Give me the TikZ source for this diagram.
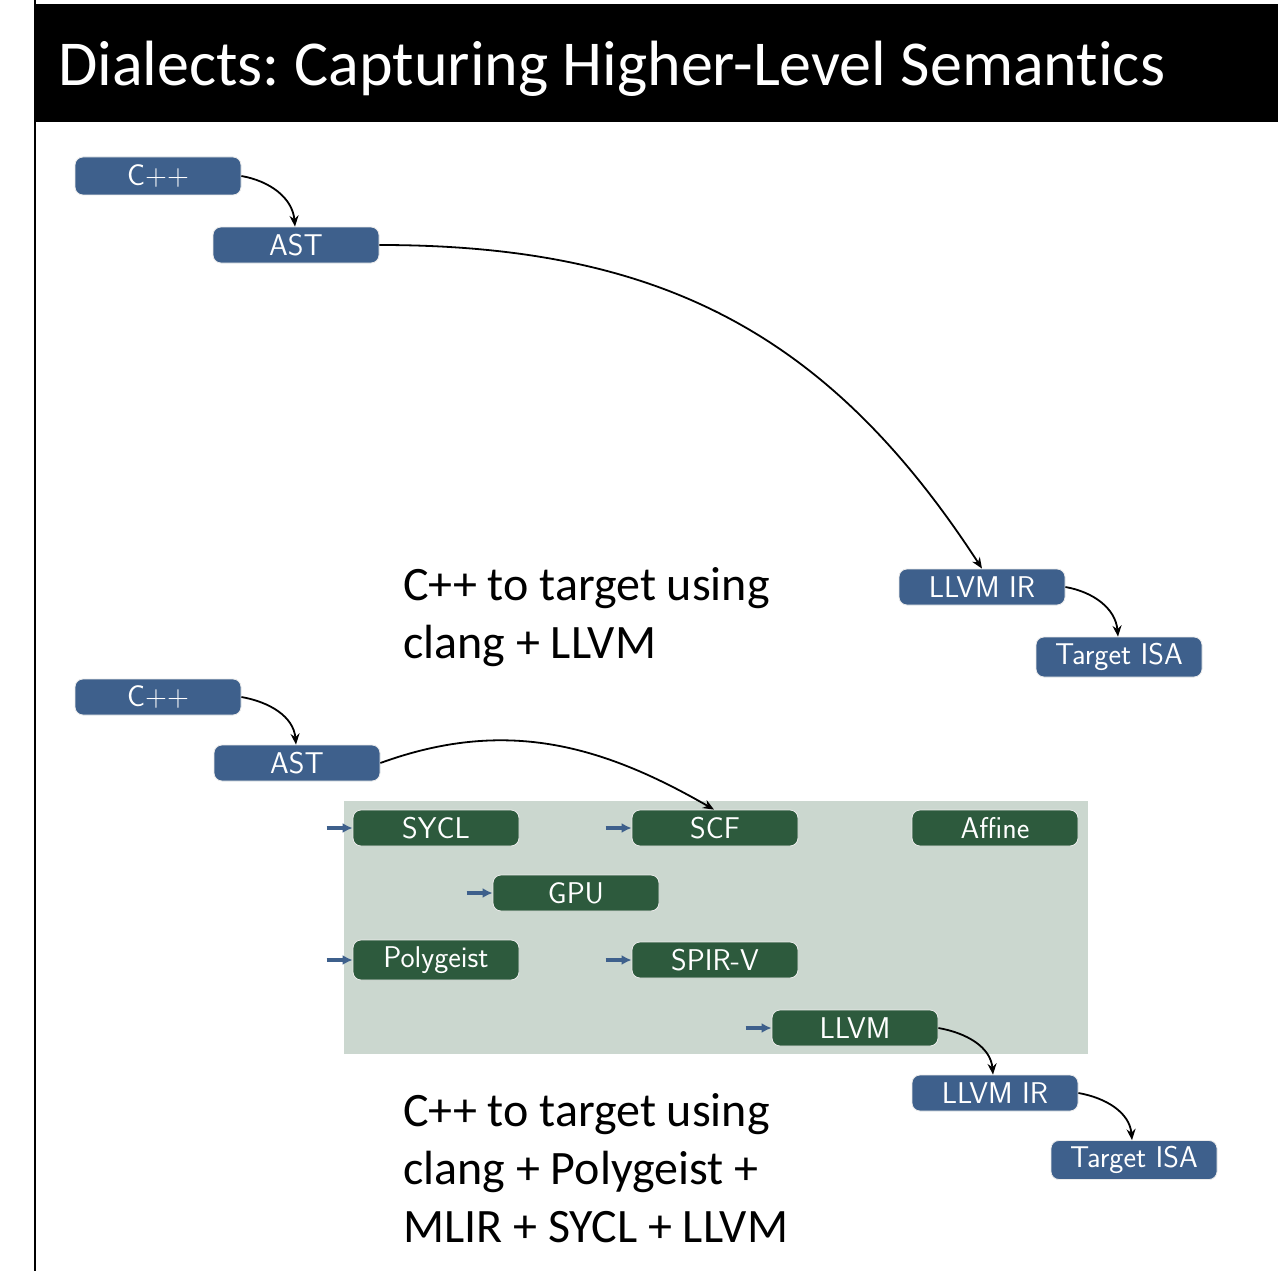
\documentclass[tikz,border=0pt]{standalone}
\usepackage{fontspec}
\newfontfamily\calib[RawFeature=-liga]{Carlito}
\frenchspacing
\usetikzlibrary{arrows.meta}
\definecolor{nblue}{RGB}{62,96,140}
\definecolor{ngreen}{RGB}{45,90,61}
\definecolor{panel}{RGB}{203,215,207}
\tikzset{
  box/.style={rounded corners=8pt, draw=white!92!black, line width=0.8pt, text=white,
    minimum width=166pt, minimum height=36pt, inner sep=0pt,
    font=\sffamily\fontsize{30}{34}\selectfont},
  bbox/.style={box, fill=nblue},
  gbox/.style={box, fill=ngreen},
  flow/.style={-{Stealth[length=11pt,width=9pt]}, line width=1.8pt, black},
  feed/.style={-{Latex[length=10pt,width=10pt]}, line width=3.2pt, nblue},
  body/.style={font=\calib\fontsize{48}{58}\selectfont, align=left, inner sep=0pt, anchor=base west}
}
\begin{document}
\begin{tikzpicture}[x=1pt,y=-1pt]
\useasboundingbox (0,0) rectangle (1278,1271);
\fill[white] (0,0) rectangle (1278,1271);
% title bar
\fill[black] (34,4) rectangle (1278,122);
\draw[black, line width=2pt] (35,0) -- (35,1271);
\node[anchor=base west, inner sep=0pt, text=white, font=\calib\fontsize{64}{70}\selectfont] (title) at (58,86) {Dialects: Capturing Higher-Level Semantics};

% top section
\node[bbox, minimum height=38pt] (cpp1) at (158,176) {C++};
\node[bbox] (ast1) at (296,245) {AST};
\node[bbox] (ir1) at (982,587) {LLVM IR};
\node[bbox, minimum height=40pt] (isa1) at (1119,657) {Target ISA};
\draw[flow] (cpp1.east) to[out=-10,in=95] ([xshift=-1pt]ast1.north);
\draw[flow] (ast1.east) to[out=0,in=123,looseness=1.05] (ir1.north);
\draw[flow] (ir1.east) to[out=-10,in=95] ([xshift=-1pt]isa1.north);
\node[body] (txt1) at (403,658) {C++ to target using\\clang + LLVM};

% bottom section
\fill[panel] (344,801) rectangle (1088,1054);
\node[bbox] (cpp2) at (158,697) {C++};
\node[bbox] (ast2) at (297,763) {AST};
\node[gbox] (sycl) at (436,828) {SYCL};
\node[gbox] (scf) at (715,828) {SCF};
\node[gbox] (affine) at (995,828) {Affine};
\node[gbox] (gpu) at (576,893) {GPU};
\node[gbox, minimum height=40pt] (poly) at (436,960) {Polygeist};
\node[gbox] (spirv) at (715,960) {SPIR-V};
\node[gbox] (llvm) at (855,1028) {LLVM};
\node[bbox] (ir2) at (995,1093) {LLVM IR};
\node[bbox, minimum height=39pt] (isa2) at (1134,1160) {Target ISA};

\coordinate (fs) at ([xshift=-26pt]sycl.west);
\coordinate (fc) at ([xshift=-26pt]scf.west);
\coordinate (fg) at ([xshift=-26pt]gpu.west);
\coordinate (fp) at ([xshift=-26pt]poly.west);
\coordinate (fv) at ([xshift=-26pt]spirv.west);
\coordinate (fl) at ([xshift=-26pt]llvm.west);
\draw[feed] (fs) -- (sycl.west);
\draw[feed] (fc) -- (scf.west);
\draw[feed] (fg) -- (gpu.west);
\draw[feed] (fp) -- (poly.west);
\draw[feed] (fv) -- (spirv.west);
\draw[feed] (fl) -- (llvm.west);

\draw[flow] (cpp2.east) to[out=-10,in=95] ([xshift=-1pt]ast2.north);
\draw[flow] (ast2.east) to[out=20,in=150] ([xshift=-1pt]scf.north);
\draw[flow] (llvm.east) to[out=-10,in=95] ([xshift=-2pt]ir2.north);
\draw[flow] (ir2.east) to[out=-10,in=95] ([xshift=-2pt]isa2.north);
\node[body] (txt2) at (403,1242) {C++ to target using\\clang + Polygeist +\\MLIR + SYCL + LLVM};
\end{tikzpicture}
\end{document}
